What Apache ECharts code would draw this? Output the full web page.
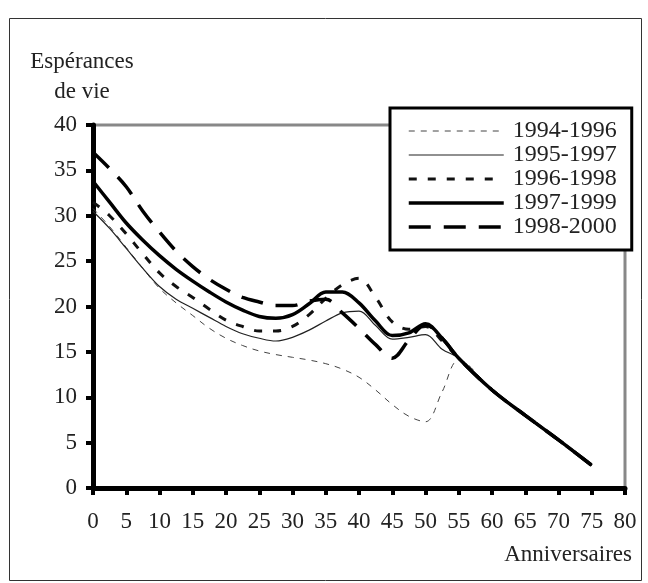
<!DOCTYPE html>
<html>
<head>
<meta charset="utf-8">
<script src="https://cdn.jsdelivr.net/npm/echarts@6/dist/echarts.min.js"></script>
<style>
  html, body { margin: 0; padding: 0; background: #fff; }
  #chart { width: 648px; height: 583px; }
</style>
</head>
<body>
<div id="chart"></div>
<script>
// ages (anniversaires) and life expectancy per period
const ages = [0, 2.5, 5, 7.5, 10, 12.5, 15, 17.5, 20, 22.5, 25, 27.5, 30, 32.5, 35, 37.5, 40, 42.5, 45, 47.5, 50, 52.5, 55, 60, 65, 70, 75]

const p1994 = [30.8, 28.8, 26.5, 24.2, 22.0, 20.4, 19.0, 17.6, 16.5, 15.7, 15.1, 14.7, 14.4, 14.1, 13.7, 13.1, 12.2, 10.8, 9.2, 7.9, 7.3, 10.6, 14.1, 10.8, 8.0, 5.3, 2.5]
const p1995 = [30.5, 28.6, 26.4, 24.2, 22.2, 20.8, 19.8, 18.8, 17.8, 17.0, 16.5, 16.2, 16.6, 17.4, 18.4, 19.3, 19.5, 17.9, 16.4, 16.6, 16.9, 15.3, 14.3, 10.8, 8.0, 5.3, 2.5]
const p1996 = [31.5, 30.0, 28.0, 25.8, 23.7, 22.2, 21.0, 19.7, 18.5, 17.8, 17.3, 17.3, 17.8, 19.1, 20.9, 22.4, 23.1, 21.0, 18.3, 17.5, 17.8, 16.2, 14.3, 10.8, 8.0, 5.3, 2.5]
const p1997 = [33.8, 31.5, 29.2, 27.3, 25.6, 24.1, 22.8, 21.6, 20.5, 19.6, 18.9, 18.7, 19.1, 20.3, 21.6, 21.6, 20.4, 18.4, 16.8, 17.1, 18.1, 16.5, 14.3, 10.8, 8.0, 5.3, 2.5]
const p1998 = [37.0, 35.2, 33.2, 30.5, 28.2, 26.1, 24.4, 23.0, 21.9, 21.0, 20.5, 20.1, 20.1, 20.6, 20.8, 19.3, 17.6, 15.8, 14.3, 16.3, 18.0, 16.5, 14.3, 10.8, 8.0, 5.3, 2.5]

const periods = ["1994-1996", "1995-1997", "1996-1998", "1997-1999", "1998-2000"]
const values = [p1994, p1995, p1996, p1997, p1998]
const styles = [
  { width: 1, type: [6, 6], color: "#444" },
  { width: 1.2, type: "solid", color: "#222" },
  { width: 3, type: [8, 11], color: "#111" },
  { width: 3.5, type: "solid", color: "#000" },
  { width: 3.5, type: [22, 13], color: "#000" }
]

const serif = "'Liberation Serif', 'DejaVu Serif', serif"
const chart = echarts.init(document.getElementById("chart"))

chart.setOption({
  animation: false,
  backgroundColor: "#fff",
  grid: {
    left: 93, right: 23, top: 125, bottom: 95,
    show: true, borderColor: "#888", borderWidth: 3, backgroundColor: "transparent"
  },
  xAxis: {
    type: "value", min: 0, max: 80, interval: 5,
    axisLine: { lineStyle: { color: "#000", width: 5 } },
    axisTick: { show: true, length: 7, lineStyle: { color: "#000", width: 4 } },
    axisLabel: { color: "#222", fontFamily: serif, fontSize: 23, margin: 22 },
    splitLine: { show: false }
  },
  yAxis: {
    type: "value", min: 0, max: 40, interval: 5,
    axisLine: { show: true, lineStyle: { color: "#000", width: 5 } },
    axisTick: { show: true, length: 7, lineStyle: { color: "#000", width: 4 } },
    axisLabel: { color: "#222", fontFamily: serif, fontSize: 23, margin: 16 },
    splitLine: { show: false }
  },
  legend: {
    orient: "vertical",
    left: 390, top: 108,
    backgroundColor: "#fff",
    borderColor: "#000", borderWidth: 3,
    padding: [11, 15, 11, 17],
    itemWidth: 95, itemHeight: 14, itemGap: 0,
    itemStyle: { color: "transparent", borderWidth: 0, opacity: 0 },
    textStyle: { color: "#222", fontFamily: serif, fontSize: 24, lineHeight: 23, padding: [0, 0, 0, 4] },
    data: periods.map((name, i) => ({ name: name, lineStyle: styles[i] }))
  },
  graphic: [
    { type: "rect", shape: { x: 9.5, y: 18.5, width: 632, height: 562 }, style: { fill: "none", stroke: "#333", lineWidth: 1 }, silent: true, z: -1 },
    { type: "text", x: 82, y: 62, style: { text: "Espérances", font: "23px " + serif, fill: "#222", textAlign: "center", textVerticalAlign: "middle" } },
    { type: "text", x: 82, y: 92, style: { text: "de vie", font: "23px " + serif, fill: "#222", textAlign: "center", textVerticalAlign: "middle" } },
    { type: "text", x: 632, y: 555, style: { text: "Anniversaires", font: "23px " + serif, fill: "#222", textAlign: "right", textVerticalAlign: "middle" } }
  ],
  series: periods.map((name, i) => ({
    name: name,
    type: "line",
    smooth: 0.35,
    symbol: "none",
    lineStyle: styles[i],
    itemStyle: { color: styles[i].color },
    data: ages.map((a, j) => [a, values[i][j]])
  }))
})
</script>
</body>
</html>
